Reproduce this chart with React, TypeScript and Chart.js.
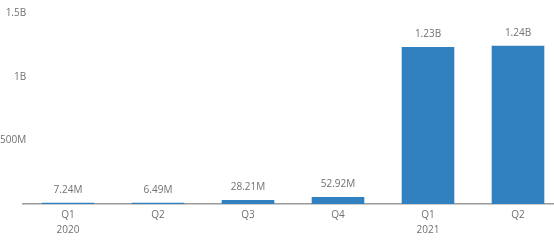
import React, { useEffect, useRef } from "react";
import { Chart, registerables } from "chart.js";

Chart.register(...registerables);

const categories: string[][] = [["Q1", "2020"], ["Q2"], ["Q3"], ["Q4"], ["Q1", "2021"], ["Q2"]];
const values: number[] = [7.24e6, 6.49e6, 28.21e6, 52.92e6, 1.23e9, 1.24e9];
const valueLabels: string[] = ["7.24M", "6.49M", "28.21M", "52.92M", "1.23B", "1.24B"];
const yTicks: number[] = [0, 5e8, 1e9, 1.5e9];
const yTickLabels: string[] = ["", "500M", "1B", "1.5B"];

const FONT = "'Open Sans', 'Noto Sans', sans-serif";

const dataLabelPlugin = {
  id: "dataLabels",
  afterDatasetsDraw(chart: any) {
    const ctx = chart.ctx;
    const meta = chart.getDatasetMeta(0);
    ctx.save();
    ctx.font = `10px ${FONT}`;
    ctx.fillStyle = "#707070";
    ctx.textAlign = "center";
    ctx.textBaseline = "middle";
    meta.data.forEach((bar: any, i: number) => {
      ctx.fillText(valueLabels[i], bar.x, bar.y - 13);
    });
    ctx.restore();
  },
};

export default function App() {
  const ref = useRef<HTMLCanvasElement>(null);
  useEffect(() => {
    if (!ref.current) return;
    const chart = new Chart(ref.current, {
      type: "bar",
      data: {
        labels: categories,
        datasets: [
          {
            data: values,
            backgroundColor: "#3180C0",
            barThickness: 52,
          },
        ],
      },
      options: {
        animation: false,
        responsive: false,
        maintainAspectRatio: false,
        layout: { padding: { top: 13, left: 0, right: 0, bottom: 0 } },
        plugins: { legend: { display: false }, tooltip: { enabled: false } },
        scales: {
          x: {
            grid: { display: false, drawTicks: false },
            border: { display: true, color: "#9a9a9a", width: 1.5 },
            ticks: {
              color: "#707070",
              font: { family: FONT, size: 10, lineHeight: 1.5 },
              padding: 4,
              maxRotation: 0,
              autoSkip: false,
            },
          },
          y: {
            min: 0,
            max: 1.5e9,
            grid: { display: false, drawTicks: false },
            border: { display: false },
            afterFit(scale: any) {
              scale.width = 23;
            },
            afterBuildTicks(scale: any) {
              scale.ticks = yTicks.map((v) => ({ value: v }));
            },
            ticks: {
              color: "#707070",
              font: { family: FONT, size: 10 },
              mirror: true,
              crossAlign: "far",
              padding: -23,
              callback: (v: any) => {
                const i = yTicks.indexOf(Number(v));
                return i >= 0 ? yTickLabels[i] : "";
              },
            },
          },
        },
      },
      plugins: [dataLabelPlugin],
    });
    return () => chart.destroy();
  }, []);
  return (
    <div style={{ position: "fixed", left: 0, top: 0, width: 563, height: 242, background: "#fff" }}>
      <canvas ref={ref} width={563} height={242} style={{ display: "block" }} />
    </div>
  );
}
